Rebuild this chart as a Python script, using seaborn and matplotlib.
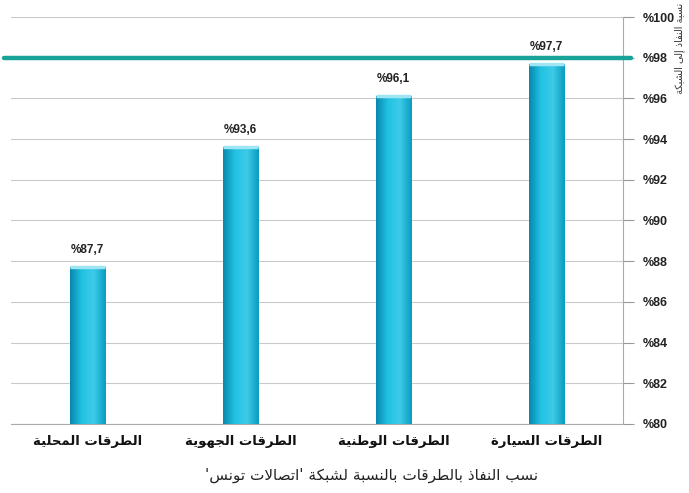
import matplotlib
matplotlib.use('Agg')
import numpy as np
import pandas as pd
import matplotlib.pyplot as plt
import seaborn as sns
from matplotlib.colors import LinearSegmentedColormap

# chart data
categories = ['الطرقات المحلية', 'الطرقات الجهوية', 'الطرقات الوطنية', 'الطرقات السيارة']
values = [87.7, 93.6, 96.1, 97.7]
target = 98
y_ticks = [80, 82, 84, 86, 88, 90, 92, 94, 96, 98, 100]
y_title = 'نسبة النفاذ إلى الشبكة'
caption = "نسب النّفاذ بالطرقات بالنّسبة لشبكة 'اتصالات تونس'"

# minimal arabic shaping (matplotlib does no joining / rtl)
DUAL = {'ب': 0xFE8F, 'ت': 0xFE95, 'ث': 0xFE99, 'ج': 0xFE9D, 'ح': 0xFEA1, 'خ': 0xFEA5,
        'س': 0xFEB1, 'ش': 0xFEB5, 'ص': 0xFEB9, 'ض': 0xFEBD, 'ط': 0xFEC1, 'ظ': 0xFEC5,
        'ع': 0xFEC9, 'غ': 0xFECD, 'ف': 0xFED1, 'ق': 0xFED5, 'ك': 0xFED9, 'ل': 0xFEDD,
        'م': 0xFEE1, 'ن': 0xFEE5, 'ه': 0xFEE9, 'ي': 0xFEF1}
RIGHT = {'ا': 0xFE8D, 'أ': 0xFE83, 'إ': 0xFE87, 'آ': 0xFE81, 'ة': 0xFE93, 'د': 0xFEA9,
         'ذ': 0xFEAB, 'ر': 0xFEAD, 'ز': 0xFEAF, 'و': 0xFEED, 'ى': 0xFEEF,
         'لا': 0xFEFB, 'لأ': 0xFEF7, 'لإ': 0xFEF9, 'لآ': 0xFEF5}


def shape(text):
    chars = [c for c in text if not 0x064B <= ord(c) <= 0x0652]
    toks = []
    i = 0
    while i < len(chars):
        if chars[i] == 'ل' and i + 1 < len(chars) and chars[i + 1] in 'اأإآ':
            toks.append(chars[i] + chars[i + 1])
            i += 2
        else:
            toks.append(chars[i])
            i += 1
    out = []
    for k, t in enumerate(toks):
        prev_j = k > 0 and toks[k - 1] in DUAL
        if t in DUAL:
            next_j = k + 1 < len(toks) and (toks[k + 1] in DUAL or toks[k + 1] in RIGHT)
            off = {(False, False): 0, (True, False): 1, (False, True): 2, (True, True): 3}[(prev_j, next_j)]
            out.append(chr(DUAL[t] + off))
        elif t in RIGHT:
            out.append(chr(RIGHT[t] + (1 if prev_j else 0)))
        else:
            out.append(t)
    return ''.join(reversed(out))


df = pd.DataFrame({'category': categories, 'value': values})

sns.set_style('white')
plt.rcParams['font.family'] = ['DejaVu Sans']

fig = plt.figure(figsize=(6.89, 4.93), dpi=100)
ax = fig.add_axes([0.016, 0.140, 0.888, 0.8255])

sns.barplot(data=df, x='category', y='value', color='#12b5d6', width=0.23, ax=ax, zorder=3)

# horizontal gradient on each bar
grad = LinearSegmentedColormap.from_list('bar', ['#0789ad', '#22c2e3', '#3dcbe8', '#0a9cc0'])
g = np.linspace(0, 1, 64).reshape(1, -1)
for p in ax.patches:
    x0, w, h = p.get_x(), p.get_width(), p.get_height()
    im = ax.imshow(g, cmap=grad, aspect='auto', extent=[x0, x0 + w, 80, h], zorder=4)
    im.set_clip_path(p)
    ax.plot([x0, x0 + w], [h, h], color='#9fe6f4', lw=2.5, zorder=5, solid_capstyle='butt')

ax.bar_label(ax.containers[0], labels=[f'%{v:.1f}'.replace('.', ',') for v in values],
             padding=8, fontsize=8.5, fontweight='bold', color='#222222', zorder=6,
             family='Liberation Sans')

ax.axhline(target, xmin=-0.012, xmax=1.014, color='#17a398', lw=3.2, zorder=6, clip_on=False)

ax.set_xlim(-0.5, len(categories) - 0.5)
ax.set_ylim(80, 100)
ax.set_yticks(y_ticks)
ax.set_yticklabels([f'%{t}' for t in y_ticks], fontsize=9, fontweight='bold', color='#222222',
                   family='Liberation Sans')
ax.yaxis.tick_right()
ax.tick_params(axis='y', length=8, color='#999999', pad=6)
ax.grid(axis='y', color='#c9c9c9', lw=0.8, zorder=0)

ax.set_xticks(range(len(categories)))
ax.set_xticklabels([shape(c) for c in categories], fontsize=9.5, fontweight='bold', color='#111111')
ax.set_xticks([i - 0.5 for i in range(len(categories) + 1)], minor=True)
ax.tick_params(axis='x', which='major', length=0, pad=8)
ax.tick_params(axis='x', which='minor', length=6, color='#999999')
ax.set_xlabel('')
ax.set_ylabel('')

for side in ['top', 'left']:
    ax.spines[side].set_visible(False)
ax.spines['right'].set_color('#aaaaaa')
ax.spines['bottom'].set_color('#aaaaaa')

fig.text(0.986, 0.995, shape(y_title), rotation=90, ha='center', va='top', fontsize=7, color='#333333')
fig.text(0.54, 0.036, shape(caption), ha='center', va='center', fontsize=11, color='#222222')

fig.savefig('out.png', dpi=100, facecolor='white')
